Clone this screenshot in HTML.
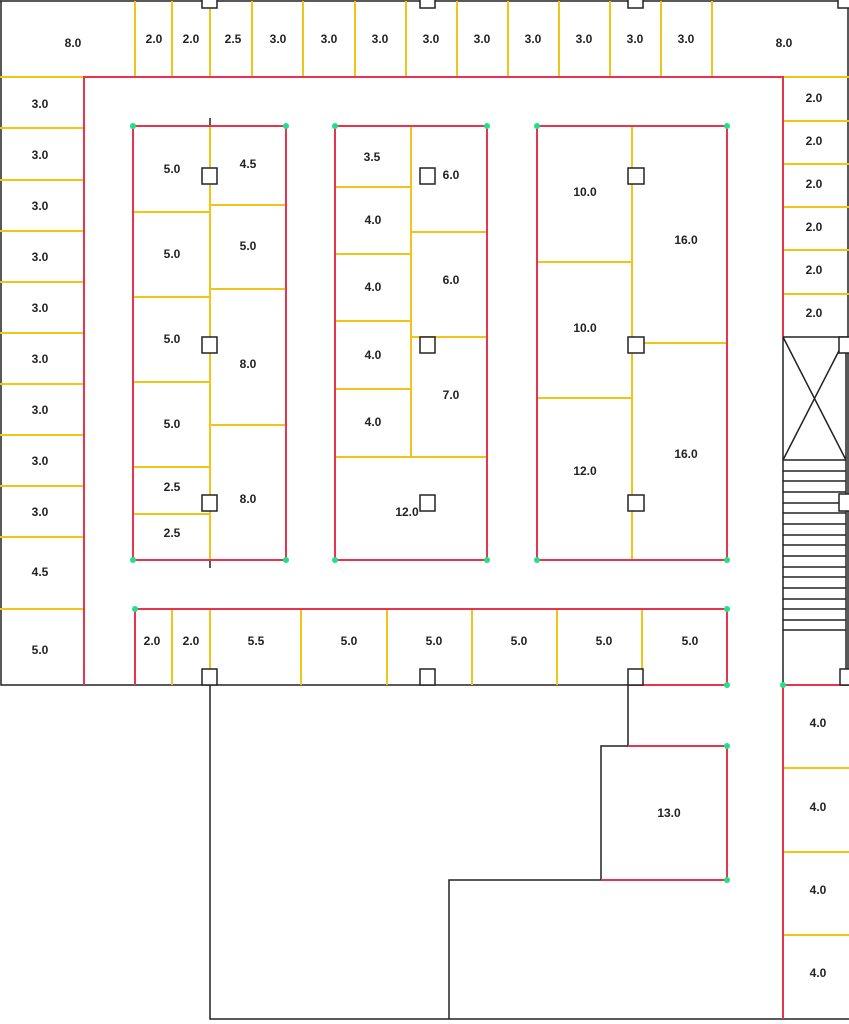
<!DOCTYPE html>
<html><head><meta charset="utf-8"><style>
html,body{margin:0;padding:0;background:#fff;}
svg{display:block;}
text{font-family:"Liberation Sans",sans-serif;font-size:12px;font-weight:bold;fill:#222;text-anchor:middle;dominant-baseline:central;}
.k{stroke:#222;stroke-width:1.5;fill:none;}
.r{stroke:#e8344e;stroke-width:2;fill:none;}
.y{stroke:#f0c419;stroke-width:2;fill:none;}
.s{stroke:#222;stroke-width:1.5;fill:#fff;}
.g{fill:#22e08a;}
</style></head><body>
<svg width="849" height="1024" viewBox="0 0 849 1024" xmlns="http://www.w3.org/2000/svg">
<!-- outer black -->
<path class="k" d="M0 1 H848 V685 M1 1 V685 H628 M210 685 V1019 H849 M628 685 V746 H601 V880 H449 V1019 M783 337 V685"/>
<!-- top strip yellow dividers -->
<path class="y" d="M135 1V77 M172 1V77 M210 1V77 M252 1V77 M303 1V77 M355 1V77 M406 1V77 M457 1V77 M508 1V77 M559 1V77 M610 1V77 M661 1V77 M712 1V77"/>
<!-- left column yellow -->
<path class="y" d="M0 77H84 M0 128H84 M0 180H84 M0 231H84 M0 282H84 M0 333H84 M0 384H84 M0 435H84 M0 486H84 M0 537H84 M0 609H84"/>
<!-- right column yellow -->
<path class="y" d="M783 77H849 M783 121H849 M783 164H849 M783 207H849 M783 250H849 M783 294H849 M783 768H849 M783 852H849 M783 935H849"/>
<!-- red outer corridor -->
<path class="r" d="M84 685 V77 H783 V337 M783 685 V1019 M783 685 H849"/>
<!-- stairs -->
<path class="k" d="M783 337H848 M783 337 L846 460 M846 337 L783 460 M783 460H846 M783 471H846 M783 481H846 M783 492H846 M783 503H846 M783 513H846 M783 524H846 M783 535H846 M783 545H846 M783 556H846 M783 567H846 M783 577H846 M783 588H846 M783 599H846 M783 609H846 M783 620H846 M783 630H846 M846 337V685"/>
<!-- block 1 -->
<path class="y" d="M210 126V560 M133 212H210 M133 297H210 M133 382H210 M133 467H210 M133 514H210 M210 205H286 M210 289H286 M210 425H286"/>
<path class="k" d="M210 118V126 M210 560V568"/>
<rect class="r" x="133" y="126" width="153" height="434"/>
<!-- block 2 -->
<path class="y" d="M411 126V457 M335 187H411 M335 254H411 M335 321H411 M335 389H411 M335 457H487 M411 232H487 M411 337H487"/>
<rect class="r" x="335" y="126" width="152" height="434"/>
<!-- block 3 -->
<path class="y" d="M632 126V560 M537 262H632 M537 398H632 M632 343H727"/>
<rect class="r" x="537" y="126" width="190" height="434"/>
<!-- bottom strip -->
<path class="y" d="M172 609V685 M210 609V685 M301 609V685 M387 609V685 M472 609V685 M557 609V685 M642 609V685"/>
<path class="r" d="M135 685V609H727V685H628"/>
<!-- 13.0 room -->
<path class="r" d="M628 746H727V880H601"/>
<!-- squares -->
<g class="s">
<rect x="202" y="-7" width="15" height="15"/><rect x="420" y="-7" width="15" height="15"/><rect x="628" y="-7" width="15" height="15"/><rect x="838" y="-7" width="15" height="15"/>
<rect x="202" y="168" width="15" height="16"/><rect x="420" y="168" width="15" height="16"/><rect x="628" y="168" width="16" height="16"/>
<rect x="202" y="337" width="15" height="16"/><rect x="420" y="337" width="15" height="16"/><rect x="628" y="337" width="16" height="16"/><rect x="839" y="337" width="12" height="16"/>
<rect x="202" y="495" width="15" height="16"/><rect x="420" y="495" width="15" height="16"/><rect x="628" y="495" width="16" height="16"/><rect x="839" y="494" width="12" height="17"/>
<rect x="202" y="669" width="15" height="16"/><rect x="420" y="669" width="15" height="16"/><rect x="628" y="669" width="15" height="16"/><rect x="840" y="669" width="12" height="16"/>
</g>
<!-- green dots -->
<g class="g">
<circle cx="133" cy="126" r="3"/><circle cx="286" cy="126" r="3"/><circle cx="133" cy="560" r="3"/><circle cx="286" cy="560" r="3"/>
<circle cx="335" cy="126" r="3"/><circle cx="487" cy="126" r="3"/><circle cx="335" cy="560" r="3"/><circle cx="487" cy="560" r="3"/>
<circle cx="537" cy="126" r="3"/><circle cx="727" cy="126" r="3"/><circle cx="537" cy="560" r="3"/><circle cx="727" cy="560" r="3"/>
<circle cx="135" cy="609" r="3"/><circle cx="727" cy="609" r="3"/><circle cx="727" cy="685" r="3"/><circle cx="783" cy="685" r="3"/>
<circle cx="727" cy="746" r="3"/><circle cx="727" cy="880" r="3"/>
</g>
<!-- labels top -->
<text x="73" y="43">8.0</text><text x="154" y="39">2.0</text><text x="191" y="39">2.0</text><text x="233" y="39">2.5</text><text x="278" y="39">3.0</text><text x="329" y="39">3.0</text><text x="380" y="39">3.0</text><text x="431" y="39">3.0</text><text x="482" y="39">3.0</text><text x="533" y="39">3.0</text><text x="584" y="39">3.0</text><text x="635" y="39">3.0</text><text x="686" y="39">3.0</text><text x="784" y="43">8.0</text>
<!-- left -->
<text x="40" y="104">3.0</text><text x="40" y="155">3.0</text><text x="40" y="206">3.0</text><text x="40" y="257">3.0</text><text x="40" y="308">3.0</text><text x="40" y="359">3.0</text><text x="40" y="410">3.0</text><text x="40" y="461">3.0</text><text x="40" y="512">3.0</text><text x="40" y="572">4.5</text><text x="40" y="650">5.0</text>
<!-- right -->
<text x="814" y="98">2.0</text><text x="814" y="141">2.0</text><text x="814" y="184">2.0</text><text x="814" y="227">2.0</text><text x="814" y="270">2.0</text><text x="814" y="313">2.0</text>
<text x="818" y="723">4.0</text><text x="818" y="807">4.0</text><text x="818" y="890">4.0</text><text x="818" y="973">4.0</text>
<!-- block1 -->
<text x="172" y="169">5.0</text><text x="248" y="164">4.5</text><text x="172" y="254">5.0</text><text x="248" y="246">5.0</text><text x="172" y="339">5.0</text><text x="248" y="364">8.0</text><text x="172" y="424">5.0</text><text x="172" y="487">2.5</text><text x="248" y="499">8.0</text><text x="172" y="533">2.5</text>
<!-- block2 -->
<text x="372" y="157">3.5</text><text x="451" y="175">6.0</text><text x="373" y="220">4.0</text><text x="451" y="280">6.0</text><text x="373" y="287">4.0</text><text x="373" y="355">4.0</text><text x="451" y="395">7.0</text><text x="373" y="422">4.0</text><text x="407" y="512">12.0</text>
<!-- block3 -->
<text x="585" y="192">10.0</text><text x="686" y="240">16.0</text><text x="585" y="328">10.0</text><text x="686" y="454">16.0</text><text x="585" y="471">12.0</text>
<!-- bottom strip -->
<text x="152" y="641">2.0</text><text x="191" y="641">2.0</text><text x="256" y="641">5.5</text><text x="349" y="641">5.0</text><text x="434" y="641">5.0</text><text x="519" y="641">5.0</text><text x="604" y="641">5.0</text><text x="690" y="641">5.0</text>
<text x="669" y="813">13.0</text>
</svg>
</body></html>
